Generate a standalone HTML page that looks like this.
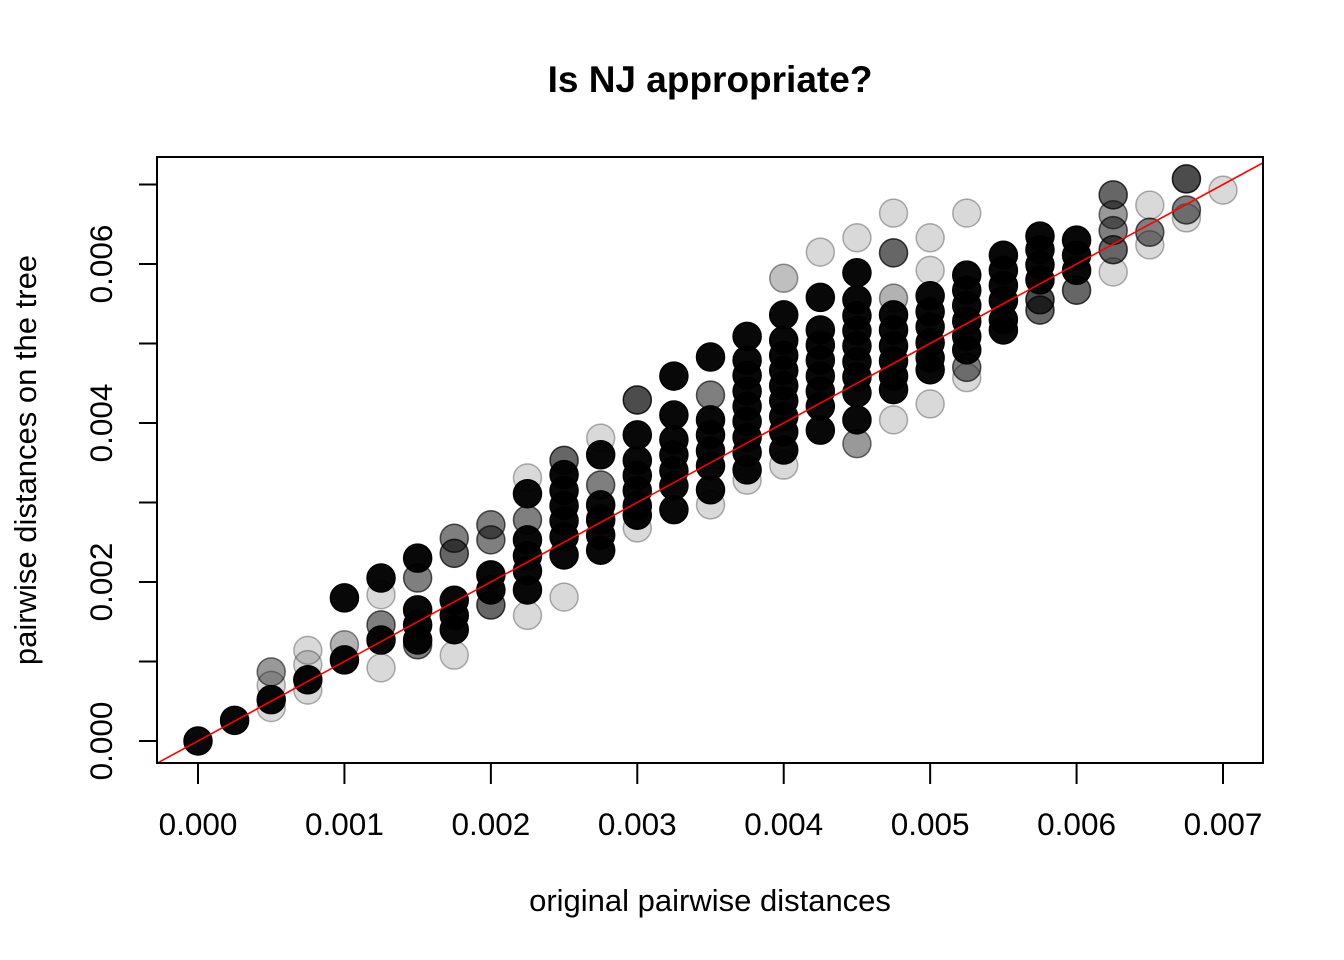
<!DOCTYPE html>
<html><head><meta charset="utf-8"><style>
body{margin:0;background:#fff}
svg{display:block;font-family:"Liberation Sans",Arial,sans-serif}
</style></head><body>
<svg id="chart" width="1344" height="960" viewBox="0 0 1344 960">
<text x="710" y="92" text-anchor="middle" font-size="37" font-weight="bold">Is NJ appropriate?</text>
<text x="710" y="911" text-anchor="middle" font-size="31">original pairwise distances</text>
<text transform="translate(36,460) rotate(-90)" text-anchor="middle" font-size="31">pairwise distances on the tree</text>
<defs><clipPath id="clip"><rect x="157" y="157" width="1106" height="606"/></clipPath></defs>
<g id="points" clip-path="url(#clip)"></g>
<g id="axes"></g>
<rect x="157" y="157" width="1106" height="606" fill="none" stroke="#000" stroke-width="2"/>
</svg>
<script>
// values in units of 0.001
const xIndex = [0,1,2,2,2,2,3,3,3,3,4,4,4,5,5,5,5,5,6,6,6,6,6,6,7,7,7,7,7,7,8,8,8,8,8,9,9,9,9,9,9,9,9,10,10,10,10,10,10,10,10,11,11,11,11,11,11,11,11,12,12,12,12,12,12,12,12,13,13,13,13,13,13,13,14,14,14,14,14,14,14,14,15,15,15,15,15,15,15,15,15,15,16,16,16,16,16,16,16,16,16,16,16,17,17,17,17,17,17,17,17,17,18,18,18,18,18,18,18,18,18,18,18,19,19,19,19,19,19,19,19,19,19,20,20,20,20,20,20,20,20,20,21,21,21,21,21,21,21,21,21,22,22,22,22,22,22,23,23,23,23,23,23,24,24,24,24,25,25,25,25,25,26,26,26,27,27,27,28];
const yVals = [0,0.26,0.52,0.87,0.70,0.42,0.77,0.96,1.14,0.64,1.80,1.02,1.21,2.05,1.27,1.84,1.46,0.92,2.30,2.05,1.65,1.46,1.27,1.21,2.55,2.36,1.77,1.58,1.40,1.08,2.72,2.53,2.09,1.90,1.71,3.31,3.11,2.78,2.53,2.33,2.14,1.90,1.58,3.53,3.35,3.15,2.96,2.77,2.57,2.34,1.81,3.81,3.60,3.22,2.97,2.78,2.59,2.40,2.80,4.29,3.85,3.53,3.34,3.15,2.96,2.84,2.68,4.59,4.10,3.79,3.60,3.40,3.21,2.91,4.83,4.35,4.04,3.85,3.65,3.46,3.16,2.97,5.09,4.79,4.60,4.40,4.21,4.02,3.82,3.63,3.41,3.28,5.82,5.36,5.04,4.85,4.66,4.47,4.28,4.08,3.89,3.66,3.47,6.15,5.58,5.17,4.98,4.79,4.59,4.40,4.21,3.91,6.33,5.89,5.55,5.35,5.16,4.97,4.77,4.58,4.38,4.04,3.74,6.64,6.14,5.57,5.36,5.17,4.97,4.78,4.59,4.42,4.04,6.33,5.92,5.60,5.40,5.21,5.01,4.82,4.67,4.24,6.64,5.86,5.67,5.48,5.28,5.09,4.92,4.57,4.70,6.11,5.92,5.73,5.54,5.30,5.17,6.35,6.18,5.99,5.80,5.55,5.42,6.30,6.11,5.92,5.67,6.87,6.62,6.42,6.18,5.90,6.74,6.40,6.24,7.07,6.68,6.58,6.93];
const alphas = [.95,.95,.9,.4,.15,.15,.9,.15,.15,.15,.95,.95,.3,.9,.9,.15,.5,.15,.9,.5,.85,.85,.85,.5,.5,.6,.85,.85,.85,.15,.5,.5,.85,.85,.6,.15,.9,.5,.85,.85,.85,.85,.15,.6,.85,.85,.85,.85,.85,.85,.15,.15,.9,.5,.85,.85,.85,.85,.15,.7,.9,.85,.85,.85,.85,.85,.15,.9,.9,.85,.85,.85,.85,.85,.9,.5,.85,.85,.85,.85,.85,.15,.9,.85,.85,.85,.85,.85,.85,.85,.85,.15,.25,.9,.85,.85,.85,.85,.85,.85,.85,.85,.15,.15,.9,.85,.85,.85,.85,.85,.85,.85,.15,.9,.85,.85,.85,.85,.85,.85,.85,.85,.4,.15,.6,.3,.85,.85,.85,.85,.85,.85,.15,.15,.15,.9,.85,.85,.85,.85,.85,.15,.15,.9,.85,.85,.85,.85,.85,.15,.5,.9,.85,.85,.85,.85,.85,.9,.85,.85,.85,.7,.6,.9,.85,.85,.6,.6,.4,.5,.6,.15,.15,.5,.15,.7,.5,.15,.15];
const xTicks = [0,1,2,3,4,5,6,7];
const xTickLabels = ["0.000","0.001","0.002","0.003","0.004","0.005","0.006","0.007"];
const yTicks = [0,1,2,3,4,5,6,7];
const yTickLabels = ["0.000","","0.002","","0.004","","0.006",""];

const NS="http://www.w3.org/2000/svg";
const sx = v => 198 + v*146.43;
const sy = v => 741 - v*79.5;
const pts=document.getElementById('points');
for(let i=0;i<yVals.length;i++){
  const a = alphas[i]>=0.85 ? 0.97 : alphas[i];
  const c=document.createElementNS(NS,'circle');
  
  
  c.setAttribute('cx',sx(xIndex[i]*0.25));
  c.setAttribute('cy',sy(yVals[i]));
  c.setAttribute('r',14);
  c.setAttribute('fill','rgba(0,0,0,'+a+')');
  c.setAttribute('stroke','rgba(0,0,0,'+Math.min(1,a+0.15)+')');
  c.setAttribute('stroke-width','1.5');
  pts.appendChild(c);
}
const ln=document.createElementNS(NS,'line');


ln.setAttribute('x1',sx(-1));ln.setAttribute('y1',sy(-1));
ln.setAttribute('x2',sx(8));ln.setAttribute('y2',sy(8));
ln.setAttribute('stroke','#f00');ln.setAttribute('stroke-width','1.6');
pts.appendChild(ln);
const ax=document.getElementById('axes');
xTicks.forEach((t,i)=>{
  const l=document.createElementNS(NS,'line');
  
  
  l.setAttribute('x1',sx(t));l.setAttribute('x2',sx(t));
  l.setAttribute('y1',763);l.setAttribute('y2',784);
  l.setAttribute('stroke','#000');l.setAttribute('stroke-width','2');
  ax.appendChild(l);
  const tx=document.createElementNS(NS,'text');
  
  
  tx.setAttribute('x',sx(t));tx.setAttribute('y',835);
  tx.setAttribute('text-anchor','middle');tx.setAttribute('font-size','31.5');
  tx.textContent=xTickLabels[i];
  ax.appendChild(tx);
});
yTicks.forEach((t,i)=>{
  const l=document.createElementNS(NS,'line');
  
  
  l.setAttribute('x1',139);l.setAttribute('x2',157);
  l.setAttribute('y1',sy(t));l.setAttribute('y2',sy(t));
  l.setAttribute('stroke','#000');l.setAttribute('stroke-width','2');
  ax.appendChild(l);
  if(yTickLabels[i]){
    const tx=document.createElementNS(NS,'text');
    
    
    tx.setAttribute('transform','translate(112,'+sy(t)+') rotate(-90)');
    tx.setAttribute('text-anchor','middle');tx.setAttribute('font-size','31.5');
    tx.textContent=yTickLabels[i];
    ax.appendChild(tx);
  }
});
</script>
</body></html>
